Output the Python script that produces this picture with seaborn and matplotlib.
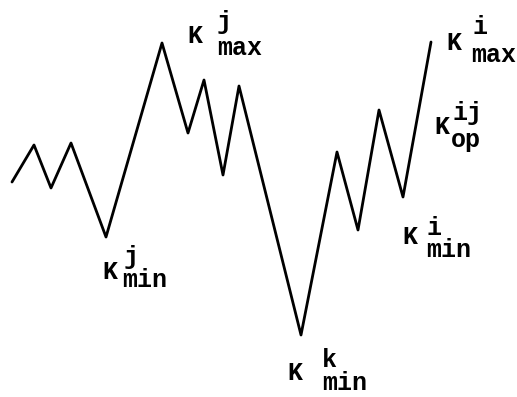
import matplotlib
matplotlib.use("Agg")
import matplotlib.pyplot as plt
import pandas as pd
import seaborn as sns

# Load history: time (arbitrary units) and stress intensity K at each reversal
time = [12, 34, 51, 71, 106, 162, 188, 204, 223, 239, 301, 337, 358, 379, 403, 431]
k_value = [215, 252, 209, 254, 160, 354, 264, 317, 222, 311, 62, 245, 167, 287, 200, 355]

# Reversal labels: (base, superscript, subscript) and their anchor positions
labels = [
    ("K", "j", "max", 187, 361, 217, 375, 217, 349),
    ("K", "i", "max", 446, 354, 473, 370, 471, 342),
    ("K", "ij", "op", 434, 270, 452, 284, 451, 257),
    ("K", "i", "min", 402, 160, 426, 169, 426, 147),
    ("K", "j", "min", 102, 125, 124, 140, 122, 117),
    ("K", "k", "min", 287, 24, 322, 37, 322, 14),
]

sns.set_theme(style="white")
plt.rcParams["font.family"] = ["Liberation Mono", "DejaVu Sans Mono"]

fig = plt.figure(figsize=(5.17, 3.97), dpi=100)
ax = fig.add_axes([0, 0, 1, 1])

df = pd.DataFrame({"t": time, "K": k_value})
sns.lineplot(data=df, x="t", y="K", sort=False, estimator=None,
             color="black", linewidth=2.0, ax=ax)

fs = 18
for base, sup, sub, bx, by, px, py, sx, sy in labels:
    for s, x, y in ((base, bx, by), (sup, px, py), (sub, sx, sy)):
        ax.text(x, y, s, fontsize=fs, ha="left", va="center",
                color="black", fontweight="bold")

ax.set_xlim(0, 517)
ax.set_ylim(0, 397)
ax.set_axis_off()
fig.patch.set_facecolor("white")

fig.savefig("out.png", dpi=100, facecolor="white")
